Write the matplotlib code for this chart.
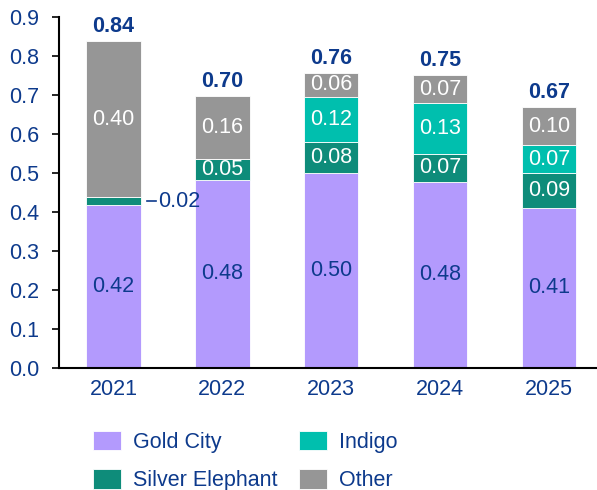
import matplotlib.pyplot as plt
import numpy as np

plt.rcParams['font.family'] = ['Liberation Sans', 'DejaVu Sans']

years = ['2021', '2022', '2023', '2024', '2025']
gold_city = [0.418, 0.483, 0.501, 0.478, 0.411]
silver_elephant = [0.020, 0.054, 0.078, 0.070, 0.088]
indigo = [0.0, 0.0, 0.116, 0.131, 0.072]
other = [0.400, 0.160, 0.062, 0.072, 0.097]

series = [
    ('Gold City', gold_city, '#b39afd', '#0d3a8c'),
    ('Silver Elephant', silver_elephant, '#0e8c7a', 'white'),
    ('Indigo', indigo, '#00bfae', 'white'),
    ('Other', other, '#969696', 'white'),
]

navy = '#0d3a8c'
fs = 15.5

fig = plt.figure(figsize=(5.97, 4.90), dpi=100)
ax = fig.add_axes([59 / 597, (490 - 368) / 490, 1 - 59 / 597, (368 - 17) / 490])

x = np.arange(len(years))
bottom = np.zeros(len(years))
handles = []
for name, vals, color, tcolor in series:
    vals = np.array(vals)
    bars = ax.bar(x, vals, 0.5, bottom=bottom, color=color, edgecolor='white',
                  linewidth=0.6, label=name)
    handles.append(bars)
    for i, v in enumerate(vals):
        if v <= 0:
            continue
        yc = bottom[i] + v / 2
        if v < 0.03:
            # small segment: label outside with a leader line
            ax.plot([x[i] + 0.31, x[i] + 0.39], [yc, yc], color=navy, lw=1.2)
            ax.text(x[i] + 0.41, yc, f'{v:.2f}', color=navy, fontsize=fs,
                    ha='left', va='center')
        else:
            ax.text(x[i], yc, f'{v:.2f}', color=tcolor, fontsize=fs,
                    ha='center', va='center')
    bottom = bottom + vals

for i, t in enumerate(bottom):
    ax.annotate(f'{t:.2f}', (x[i], t), xytext=(0, 3), textcoords='offset points',
                ha='center', va='bottom', color=navy, fontsize=fs, fontweight='bold')

ax.set_xlim(-0.5, 4.44)
ax.set_ylim(0, 0.9)
ax.set_yticks(np.arange(0, 0.91, 0.1))
ax.yaxis.set_major_formatter(plt.FuncFormatter(lambda v, p: f'{v:.1f}'))
ax.set_xticks(x)
ax.set_xticklabels(years)
ax.tick_params(axis='y', colors='black', labelcolor=navy, labelsize=fs,
               length=5, width=1.2, pad=9)
ax.tick_params(axis='x', length=0, labelcolor=navy, labelsize=fs, pad=8)
for s in ['top', 'right']:
    ax.spines[s].set_visible(False)
for s in ['left', 'bottom']:
    ax.spines[s].set_linewidth(1.5)
    ax.spines[s].set_color('black')

leg = fig.legend(handles=handles, loc='upper left', bbox_to_anchor=(93 / 597, 0.12),
                 ncol=2, frameon=False, fontsize=fs, handlelength=1.3,
                 handleheight=1.0, handletextpad=0.55, columnspacing=1.0,
                 labelspacing=0.75, borderpad=0, borderaxespad=0)
for t in leg.get_texts():
    t.set_color(navy)

fig.savefig('out.png', dpi=100)
